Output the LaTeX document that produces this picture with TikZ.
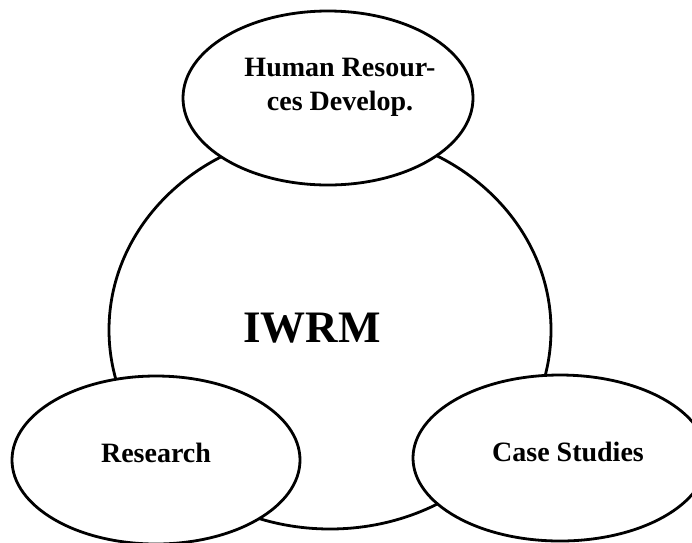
\documentclass[tikz,border=0pt]{standalone}
\usepackage{fontspec}
\setmainfont{Liberation Serif}
\usetikzlibrary{shapes.geometric}

\begin{document}
\begin{tikzpicture}[x=1pt, y=-1pt,
        blob/.style={draw, ellipse, line width=2.8pt, fill=white, inner sep=0pt},
        txt/.style={inner sep=0pt, align=center, font=\fontsize{28}{34}\selectfont\bfseries}]
        \useasboundingbox (0, 0) rectangle (692, 542);

        % the big one in the middle
        \node [blob, minimum width=442pt, minimum height=398pt] (IWRM) at (330, 330) {};

        % the three smaller ones sit over its rim
        \node [blob, minimum width=290pt, minimum height=174pt] (HRD) at (328, 98) {};
        \node [blob, minimum width=288pt, minimum height=168pt] (RES) at (156, 460) {};
        \node [blob, minimum width=294pt, minimum height=166pt] (CS) at (560, 458) {};

        % labels
        \node [txt, font=\fontsize{45}{54}\selectfont\bfseries] (IWRMtext) at (312, 328) {IWRM};
        \node [txt] (HRDtext) at (340, 87) {Human Resour-\\ces Develop.};
        \node [txt] (REStext) at (156, 453) {Research};
        \node [txt] (CStext) at (568, 452) {Case Studies};
    \end{tikzpicture}
\end{document}
